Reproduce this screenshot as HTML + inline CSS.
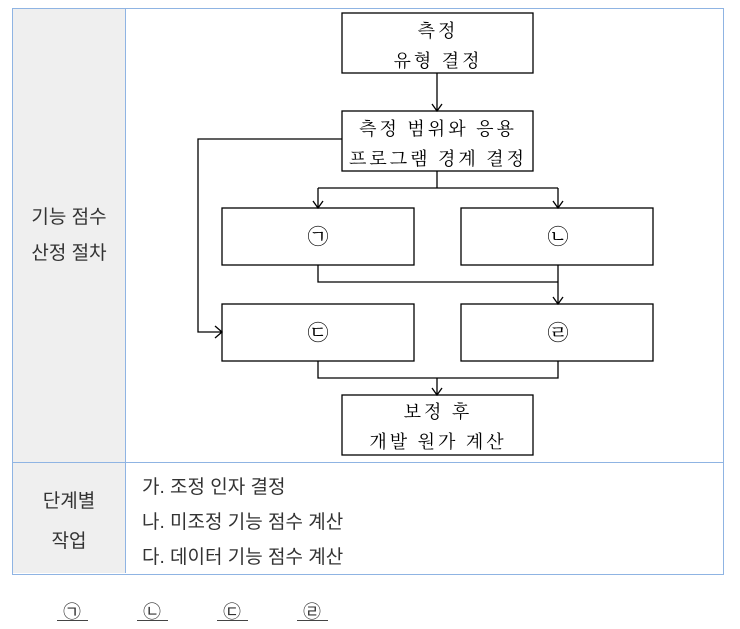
<!DOCTYPE html>
<html><head><meta charset="utf-8"><style>
body{margin:0;background:#fff;width:740px;height:629px;overflow:hidden;position:relative;font-family:"Liberation Sans","Noto Sans CJK KR",sans-serif}
.a{position:absolute}
</style></head><body>
<div class="a" style="left:12px;top:8px;width:710px;height:565px;border:1px solid #8fb4e3;"></div>
<div class="a" style="left:13px;top:9px;width:112px;height:564px;background:#efefef;border-right:1px solid #8fb4e3"></div>
<div class="a" style="left:13px;top:462px;width:710px;height:1px;background:#8fb4e3"></div>
<div class="a" style="left:13px;top:200px;width:112px;text-align:center;font-size:19px;line-height:36px;color:#333">기능 점수<br>산정 절차</div>
<div class="a" style="left:13px;top:482px;width:112px;text-align:center;font-size:19px;line-height:40px;color:#333">단계별<br>작업</div>
<div class="a" style="left:142px;top:470px;font-size:19px;line-height:35px;color:#333">가. 조정 인자 결정<br>나. 미조정 기능 점수 계산<br>다. 데이터 기능 점수 계산</div>
<svg class="a" style="left:0;top:0" width="740" height="629" font-family="Liberation Serif,Noto Serif CJK SC,serif" font-size="18" text-anchor="middle">
<g fill="none" stroke="#000" stroke-width="1.3">
<rect x="342" y="13" width="191" height="60"/>
<rect x="342" y="111" width="191" height="60"/>
<rect x="222" y="208" width="192" height="57"/>
<rect x="461" y="208" width="192" height="57"/>
<rect x="222" y="304" width="192" height="57"/>
<rect x="461" y="304" width="192" height="57"/>
<rect x="342" y="395" width="191" height="60"/>
<path d="M437 73V111M432 104L437 111L442 104"/>
<path d="M437 171V188M318 188H558M318 188V208M558 188V208M313 201L318 208L323 201M553 201L558 208L563 201"/>
<path d="M342 139H198V332H222M215 326L222 332L215 338"/>
<path d="M318 265V282H558M558 265V304M553 297L558 304L563 297"/>
<path d="M318 361V378H558V361M437 378V395M432 388L437 395L442 388"/>
</g>
<g letter-spacing="3">
<text x="438" y="37">측정</text><text x="438" y="67">유형 결정</text>
<text x="438" y="135">측정 범위와 응용</text><text x="438" y="165">프로그램 경계 결정</text>
<text x="438" y="418">보정 후</text><text x="438" y="448">개발 원가 계산</text>
</g>
<g font-size="21">
<text x="318" y="244">㉠</text><text x="558" y="244">㉡</text>
<text x="318" y="340">㉢</text><text x="558" y="340">㉣</text></g>
<g font-family="Liberation Sans,Noto Sans CJK KR,sans-serif" font-size="18" fill="#333">
<text x="72" y="618">㉠</text><text x="152" y="618">㉡</text><text x="232" y="618">㉢</text><text x="312" y="618">㉣</text></g>
<g stroke="#444"><path d="M57 620.5H88M137 620.5H168M217 620.5H248M297 620.5H328"/></g>
</svg>
</body></html>
